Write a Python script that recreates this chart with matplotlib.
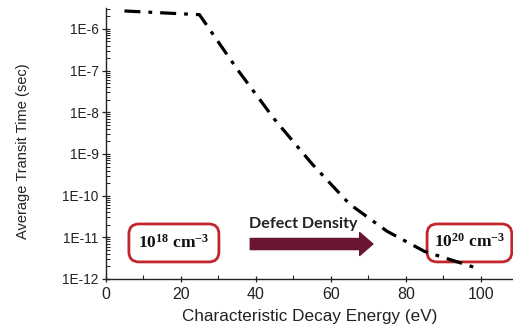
import numpy as np
import matplotlib
matplotlib.use("Agg")
import matplotlib.pyplot as plt
from matplotlib.patches import FancyBboxPatch
from matplotlib.ticker import LogLocator, FuncFormatter, MultipleLocator, NullFormatter

# Data
energy_ev = [5, 25, 35, 45, 55, 65, 75, 85, 100]
transit_time_s = [2.7e-6, 2.2e-6, 1.1e-7, 6.8e-9, 5.8e-10, 6.3e-11, 1.4e-11, 4.6e-12, 1.7e-12]
x_ticks = [0, 20, 40, 60, 80, 100]
y_ticks = [1e-12, 1e-11, 1e-10, 1e-9, 1e-8, 1e-7, 1e-6]

plt.rcParams['font.family'] = ['Liberation Sans', 'DejaVu Sans']

fig = plt.figure(figsize=(5.13, 3.29), dpi=100)
ax = fig.add_axes([0.206, 0.152, 0.794, 0.824])

ax.plot(energy_ev, transit_time_s, color='black', lw=2.3,
        linestyle=(0, (5, 2.5, 1.2, 2.5)), solid_capstyle='butt', dash_capstyle='butt')

ax.set_yscale('log')
ax.set_xlim(0, 108.6)
ax.set_ylim(1e-12, 3.2e-6)
ax.set_xticks(x_ticks)
ax.xaxis.set_minor_locator(MultipleLocator(10))
ax.set_yticks(y_ticks)
ax.yaxis.set_minor_locator(LogLocator(base=10, subs=np.arange(2, 10)))
ax.yaxis.set_minor_formatter(NullFormatter())
ax.yaxis.set_major_formatter(FuncFormatter(lambda v, p: "1E%d" % int(round(np.log10(v)))))

for s in ['top', 'right']:
    ax.spines[s].set_visible(False)
for s in ['left', 'bottom']:
    ax.spines[s].set_linewidth(1.0)
    ax.spines[s].set_color('#222222')

ax.tick_params(axis='y', which='major', direction='inout', length=6, width=0.9,
               labelsize=9.8, pad=2, colors='#222222')
ax.tick_params(axis='y', which='minor', direction='in', length=3, width=0.7, colors='#222222')
ax.tick_params(axis='x', which='major', direction='inout', length=5, width=0.9,
               labelsize=11.5, pad=3, colors='#222222')
ax.tick_params(axis='x', which='minor', direction='in', length=3, width=0.8, colors='#222222')

ax.set_xlabel('Characteristic Decay Energy (eV)', fontsize=12.3, color='#222222', labelpad=5)
ax.set_ylabel('Average Transit Time (sec)', fontsize=10.5, color='#222222')
ax.yaxis.set_label_coords(-0.186, 0.47)

red = '#C0262B'
for (x0, x1) in [(0.057, 0.278), (0.789, 0.997)]:
    box = FancyBboxPatch((x0, 0.063), x1 - x0, 0.14, transform=ax.transAxes,
                         boxstyle='round,pad=0,rounding_size=0.025', fc='none',
                         ec=red, lw=2.0, clip_on=False, mutation_aspect=1.5)
    ax.add_patch(box)

ax.text(0.167, 0.133, r'$\mathregular{10^{18}}$ cm$\mathregular{^{-3}}$', transform=ax.transAxes,
        ha='center', va='center', fontsize=12.5, family='Liberation Serif', weight='bold',
        color='#111111')
ax.text(0.894, 0.137, r'$\mathregular{10^{20}}$ cm$\mathregular{^{-3}}$', transform=ax.transAxes,
        ha='center', va='center', fontsize=12.5, family='Liberation Serif', weight='bold',
        color='#111111')

ax.annotate('', xy=(0.656, 0.129), xytext=(0.355, 0.129), xycoords='axes fraction',
            arrowprops=dict(arrowstyle='simple,head_length=0.95,head_width=1.65,tail_width=0.8',
                            color='#6B1631', shrinkA=0, shrinkB=0, mutation_scale=10))
ax.text(0.485, 0.203, 'Defect Density', transform=ax.transAxes, ha='center', va='center',
        fontsize=11.6, family=['Lato', 'DejaVu Sans'], weight='bold', color='#222222')

fig.savefig('out.png', dpi=100)
